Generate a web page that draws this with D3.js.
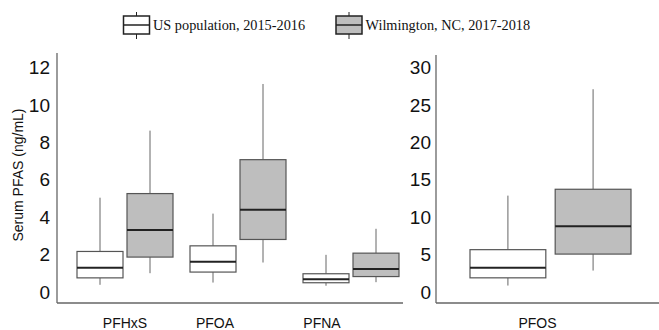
<!DOCTYPE html>
<html>
<head>
<meta charset="utf-8">
<script src="https://cdn.jsdelivr.net/npm/d3@7"></script>
<style>
  body { margin: 0; background: #fff; }
  svg { display: block; }
</style>
</head>
<body>
<svg id="svg"></svg>
<script>
// box stats per analyte: [whisker low, Q1, median, Q3, whisker high]
const analytesLeft = ['PFHxS', 'PFOA', 'PFNA'];
const analytesRight = ['PFOS'];
const groups = ['US population, 2015-2016', 'Wilmington, NC, 2017-2018'];
const usPopulation = [
  [0.4, 0.77, 1.31, 2.18, 5.05],
  [0.52, 1.08, 1.63, 2.48, 4.2],
  [0.35, 0.51, 0.7, 0.99, 2.0],
  [0.9, 1.93, 3.27, 5.69, 12.9]
];
const wilmington = [
  [1.02, 1.88, 3.32, 5.27, 8.63],
  [1.59, 2.82, 4.4, 7.08, 11.12],
  [0.54, 0.84, 1.25, 2.09, 3.39],
  [2.9, 5.1, 8.82, 13.75, 27.1]
];
const leftTicks = [0, 2, 4, 6, 8, 10, 12];
const rightTicks = [0, 5, 10, 15, 20, 25, 30];

const W = 659, H = 330;
const fills = ['#ffffff', '#bebebe'];
const allAnalytes = analytesLeft.concat(analytesRight);

const svg = d3.select('#svg').attr('width', W).attr('height', H);

function statsFor(name) {
  const i = allAnalytes.indexOf(name);
  return [usPopulation[i], wilmington[i]];
}

function drawPanel(opt) {
  const y = d3.scaleLinear().domain(opt.domain).range([292.3, 67.5]);
  const x = d3.scaleBand().domain(opt.cats).range(opt.xRange);
  const sub = d3.scaleBand().domain(groups)
    .range([-opt.half, opt.half]).paddingInner(opt.pad);

  const g = svg.append('g');

  // axis lines
  g.append('line')
    .attr('x1', opt.xRange[0] - opt.axisGap).attr('x2', opt.xRange[0] - opt.axisGap)
    .attr('y1', opt.top).attr('y2', 303)
    .attr('stroke', '#666').attr('stroke-width', 1.3);
  g.append('line')
    .attr('x1', opt.xRange[0] - opt.axisGap).attr('x2', opt.xEnd)
    .attr('y1', 303).attr('y2', 303)
    .attr('stroke', '#666').attr('stroke-width', 1.3);

  const yAxis = g.append('g')
    .attr('transform', 'translate(' + (opt.xRange[0] - opt.axisGap) + ',0)')
    .call(d3.axisLeft(y).tickValues(opt.ticks).tickSize(0).tickPadding(opt.tickPad));
  yAxis.select('.domain').remove();
  yAxis.selectAll('text')
    .attr('font-family', 'Liberation Sans, Arial, sans-serif')
    .attr('font-size', 19)
    .attr('fill', '#111');

  opt.cats.forEach(function (c, ci) {
    const cx = x(c) + x.bandwidth() / 2;
    statsFor(c).forEach(function (s, gi) {
      const x0 = cx + sub(groups[gi]);
      const bw = sub.bandwidth();
      const mid = x0 + bw / 2;
      const box = g.append('g');
      box.append('line')
        .attr('x1', mid).attr('x2', mid)
        .attr('y1', y(s[0])).attr('y2', y(s[1]))
        .attr('stroke', '#666').attr('stroke-width', 1);
      box.append('line')
        .attr('x1', mid).attr('x2', mid)
        .attr('y1', y(s[3])).attr('y2', y(s[4]))
        .attr('stroke', '#666').attr('stroke-width', 1);
      box.append('rect')
        .attr('x', x0).attr('width', bw)
        .attr('y', y(s[3])).attr('height', y(s[1]) - y(s[3]))
        .attr('fill', fills[gi])
        .attr('stroke', '#555').attr('stroke-width', 1.2);
      box.append('line')
        .attr('x1', x0).attr('x2', x0 + bw)
        .attr('y1', y(s[2])).attr('y2', y(s[2]))
        .attr('stroke', '#222').attr('stroke-width', 2);
    });

    g.append('text')
      .attr('x', cx + opt.labelShift[ci])
      .attr('y', 328)
      .attr('text-anchor', 'middle')
      .attr('font-family', 'Liberation Sans, Arial, sans-serif')
      .attr('font-size', 14)
      .attr('fill', '#111')
      .text(c);
  });
}

drawPanel({
  cats: analytesLeft, domain: [0, 12], ticks: leftTicks,
  xRange: [68.5, 407.5], xEnd: 403, axisGap: 11.5, top: 53,
  half: 48, pad: 0.08, tickPad: 7, labelShift: [0, -23, -29]
});
drawPanel({
  cats: analytesRight, domain: [0, 30], ticks: rightTicks,
  xRange: [470, 631], xEnd: 659, axisGap: 34, top: 55,
  half: 80.5, pad: 0.11, tickPad: 5, labelShift: [-13]
});

// y label
svg.append('text')
  .attr('transform', 'translate(23,175) rotate(-90)')
  .attr('text-anchor', 'middle')
  .attr('font-family', 'Liberation Sans, Arial, sans-serif')
  .attr('font-size', 14)
  .attr('fill', '#111')
  .text('Serum PFAS (ng/mL)');

// legend
const legendX = [123.5, 336];
groups.forEach(function (name, i) {
  const lg = svg.append('g').attr('transform', 'translate(' + legendX[i] + ',0)');
  lg.append('line').attr('x1', 13).attr('x2', 13).attr('y1', 12).attr('y2', 39)
    .attr('stroke', '#222').attr('stroke-width', 1);
  lg.append('rect').attr('x', 0).attr('y', 16).attr('width', 26).attr('height', 18)
    .attr('fill', fills[i]).attr('stroke', '#222').attr('stroke-width', 1.5);
  lg.append('line').attr('x1', 0).attr('x2', 26).attr('y1', 25).attr('y2', 25)
    .attr('stroke', '#222').attr('stroke-width', 1.5);
  lg.append('text')
    .attr('x', 29.5).attr('y', 30)
    .attr('font-family', 'Liberation Serif, Times New Roman, serif')
    .attr('font-size', 14.3)
    .attr('fill', '#111')
    .text(name);
});
</script>
</body>
</html>
